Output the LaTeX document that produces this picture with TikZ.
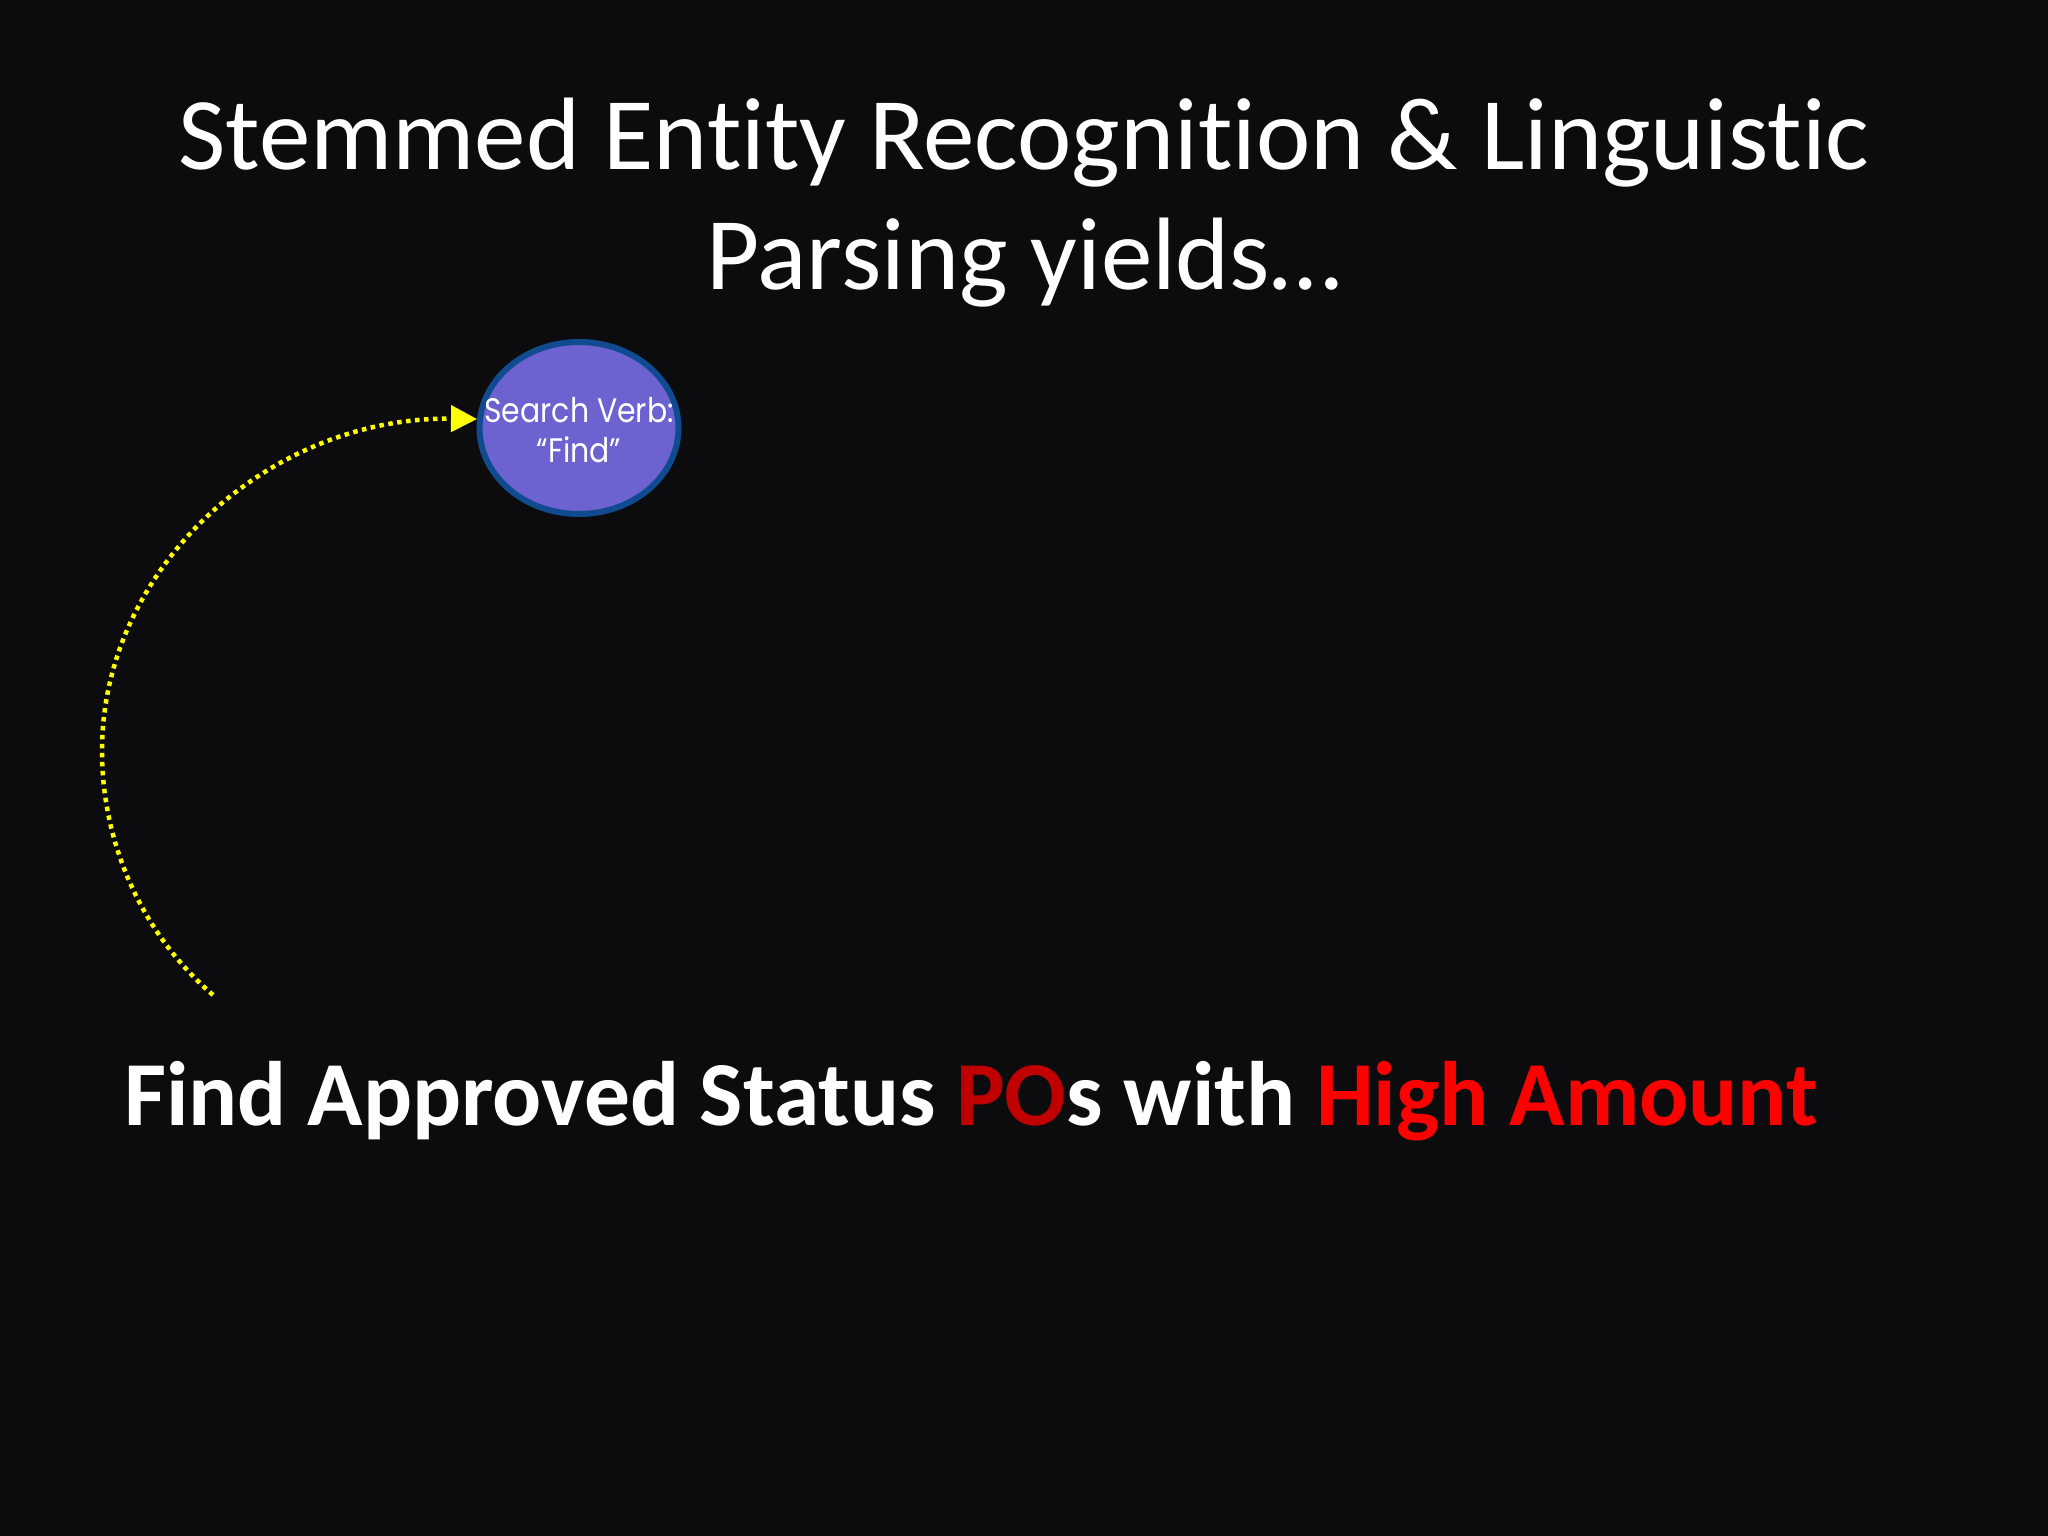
\documentclass[tikz,border=0pt]{standalone}
\usepackage{fontspec}
\setmainfont[Ligatures=NoCommon]{Carlito}
\newfontfamily\geofont[FakeStretch=0.88]{Poppins}
\usetikzlibrary{arrows.meta,shapes.geometric}
\definecolor{bgcol}{RGB}{12,12,14}
\definecolor{ellfill}{RGB}{108,98,208}
\definecolor{ellline}{RGB}{16,74,143}
\definecolor{darkred}{RGB}{192,0,0}
\definecolor{brightred}{RGB}{255,0,0}
\definecolor{dotyellow}{RGB}{255,255,0}
\tikzset{
  titletext/.style={text=white,font=\fontsize{103}{120}\selectfont,inner sep=0pt,anchor=base},
  maintext/.style={text=white,font=\fontsize{91.5}{110}\selectfont\bfseries,inner sep=0pt,anchor=base west},
  bubble/.style={ellipse,draw=ellline,line width=6pt,fill=ellfill,minimum width=199pt,minimum height=172pt,inner sep=0pt},
  bubbletext/.style={text=white,font=\geofont\fontsize{34}{40}\selectfont,align=center,inner sep=0pt},
  dotarrow/.style={draw=dotyellow,line width=4.5pt,dash pattern=on 4.5pt off 4.5pt,-{Triangle[length=26pt,width=26pt]}}
}
\begin{document}
\begin{tikzpicture}[x=1pt,y=1pt]
\fill[bgcol] (0,0) rectangle (2048,1536);
\useasboundingbox (0,0) rectangle (2048,1536);
\node[titletext] (title1) at (1024,1366) {Stemmed Entity Recognition \& Linguistic};
\node[titletext] (title2) at (1024,1246) {Parsing yields…};
\node[bubble] (verb) at (579,1108) {};
\node[bubbletext] (verbtext) at (579,1106) {Search Verb:\\“Find”};
\node[maintext] (query) at (124,410) {Find Approved Status \textcolor{darkred}{PO}s with \textcolor{brightred}{High Amount}};
\coordinate (start) at (213,541);
\draw[dotarrow] (start) .. controls (140,604) and (102,695) .. (102,785)
  .. controls (102,969) and (270,1120) .. (verb.175);
\end{tikzpicture}
\end{document}
